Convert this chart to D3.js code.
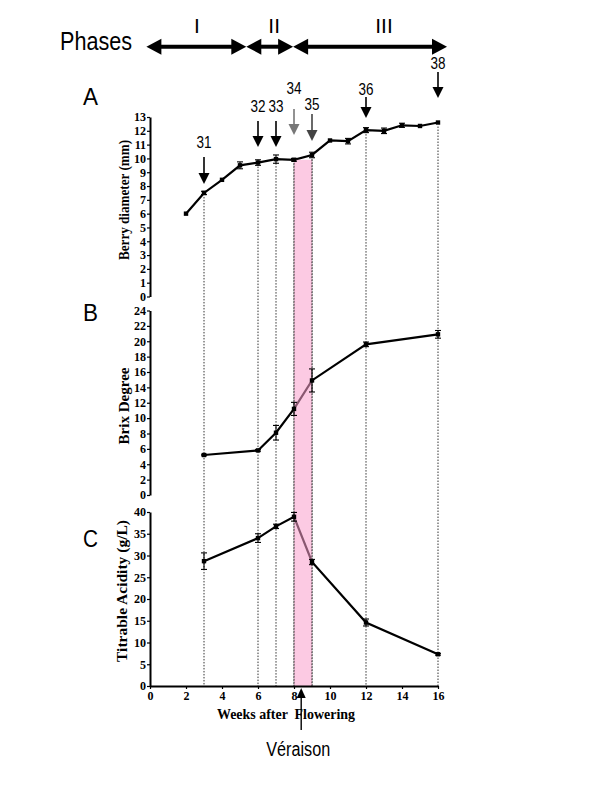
<!DOCTYPE html>
<html lang="en">
<head>
    <meta charset="UTF-8">
    <title>Berry development phases</title>
    <script src="https://d3js.org/d3.v7.min.js"></script>
    <style>
        body { margin: 0; background: #fff; }
        .tick text { font-family: "Liberation Serif", "Times New Roman", serif; font-weight: bold; font-size: 12px; }
        .axis path.domain { stroke: #000; stroke-width: 2; }
        .axis line { stroke: #000; stroke-width: 1.2; }
        .sans { font-family: "Liberation Sans", Arial, sans-serif; }
        .serif { font-family: "Liberation Serif", "Times New Roman", serif; font-weight: bold; }
    </style>
</head>
<body>
<svg id="chart" width="600" height="800"></svg>
<script>
// Panel A: berry diameter (mm), weekly
const weeksA = [2, 3, 4, 5, 6, 7, 8, 9, 10, 11, 12, 13, 14, 15, 16];
const diameter = [6.0, 7.5, 8.45, 9.5, 9.7, 9.95, 9.9, 10.25, 11.3, 11.25, 12.05, 12.0, 12.4, 12.35, 12.6];
const diameterErr = [0, 0.12, 0.05, 0.25, 0.2, 0.3, 0.1, 0.2, 0.05, 0.2, 0.18, 0.2, 0.15, 0.05, 0.05];

// Panels B and C: sampled weeks
const weeksBC = [3, 6, 7, 8, 9, 12, 16];
const brix = [5.2, 5.8, 8.1, 11.2, 14.9, 19.6, 20.9];
const brixErr = [0.1, 0.1, 0.95, 0.85, 1.5, 0.3, 0.5];
const acidity = [28.7, 34.0, 36.7, 38.9, 28.5, 14.6, 7.3];
const acidityErr = [1.9, 1.0, 0.5, 1.0, 0.6, 0.8, 0.2];

// Growth stage labels (week of each arrow)
const stageLabels = ["31", "32", "33", "34", "35", "36", "38"];
const stageWeeks = [3, 6, 7, 8, 9, 12, 16];

// Phases
const phaseLabels = ["I", "II", "III"];
const phaseBounds = [-0.2, 5.35, 7.95, 16.5];
const phaseLabelWeeks = [2.6, 6.9, 13.0];

const xTicks = [0, 2, 4, 6, 8, 10, 12, 14, 16];
const veraisonWeek = 8.4;

const svg = d3.select("#chart");

// scales
const x = d3.scaleLinear().domain([0, 16]).range([150, 438]);
const yA = d3.scaleLinear().domain([0, 13]).range([296.5, 117]);
const yB = d3.scaleLinear().domain([0, 24]).range([495, 310.5]);
const yC = d3.scaleLinear().domain([0, 40]).range([686, 512]);

// arrow layout for the stage labels (label baseline, arrow top, arrow tip)
const stageLayout = [
    { ly: 148, top: 157, tip: 184, color: "#000" },
    { ly: 112, top: 121, tip: 147, color: "#000" },
    { ly: 112, top: 121, tip: 147, color: "#000" },
    { ly: 94, top: 109, tip: 135, color: "#777" },
    { ly: 110, top: 114, tip: 141, color: "#444" },
    { ly: 95, top: 97, tip: 118, color: "#000" },
    { ly: 69, top: 72, tip: 98, color: "#000" }
];

// dotted guide lines from panel A down to the x axis
stageWeeks.forEach(w => {
    const v = diameter[weeksA.indexOf(w)];
    svg.append("line")
        .attr("x1", x(w)).attr("x2", x(w))
        .attr("y1", yA(v) + 4).attr("y2", yC(0))
        .attr("stroke", "#333")
        .attr("stroke-width", 1)
        .attr("stroke-dasharray", "1.5,1.5");
});

// line generator
function drawLine(xs, ys, yScale) {
    const pts = xs.map((d, i) => [x(d), yScale(ys[i])]);
    svg.append("path")
        .attr("d", d3.line()(pts))
        .attr("fill", "none")
        .attr("stroke", "#000")
        .attr("stroke-width", 2.2);
}

drawLine(weeksA, diameter, yA);
drawLine(weeksBC, brix, yB);
drawLine(weeksBC, acidity, yC);

// véraison band (drawn over the lines so they look purple inside)
svg.append("rect")
    .attr("x", x(8))
    .attr("y", yA(9.9))
    .attr("width", x(9) - x(8))
    .attr("height", yC(0) - yA(9.9))
    .attr("fill", "#fa9fcc")
    .attr("opacity", 0.55);

// re-draw edge guide lines on top of the band
[8, 9].forEach(w => {
    svg.append("line")
        .attr("x1", x(w)).attr("x2", x(w))
        .attr("y1", yA(9.9)).attr("y2", yC(0))
        .attr("stroke", "#333")
        .attr("stroke-width", 1)
        .attr("stroke-dasharray", "1.5,1.5");
});

// markers + error bars
function drawPoints(xs, ys, errs, yScale) {
    const g = svg.append("g");
    xs.forEach((d, i) => {
        const cx = x(d), cy = yScale(ys[i]);
        if (errs[i] > 0.08) {
            const y1 = yScale(ys[i] + errs[i]), y2 = yScale(ys[i] - errs[i]);
            g.append("line").attr("x1", cx).attr("x2", cx).attr("y1", y1).attr("y2", y2)
                .attr("stroke", "#000").attr("stroke-width", 1.1);
            [y1, y2].forEach(yy => g.append("line")
                .attr("x1", cx - 3).attr("x2", cx + 3).attr("y1", yy).attr("y2", yy)
                .attr("stroke", "#000").attr("stroke-width", 1.1));
        }
        g.append("rect")
            .attr("x", cx - 2.2).attr("y", cy - 2.2)
            .attr("width", 4.4).attr("height", 4.4)
            .attr("fill", "#000");
    });
}

drawPoints(weeksA, diameter, diameterErr, yA);
drawPoints(weeksBC, brix, brixErr, yB);
drawPoints(weeksBC, acidity, acidityErr, yC);

// axes
svg.append("g").attr("class", "axis")
    .attr("transform", "translate(150,0)")
    .call(d3.axisLeft(yA).tickValues(d3.range(0, 14, 1)).tickFormat(d3.format("d")).tickSize(3).tickSizeOuter(0).tickPadding(1));
svg.append("g").attr("class", "axis")
    .attr("transform", "translate(150,0)")
    .call(d3.axisLeft(yB).tickValues(d3.range(0, 25, 2)).tickFormat(d3.format("d")).tickSize(3).tickSizeOuter(0).tickPadding(1));
svg.append("g").attr("class", "axis")
    .attr("transform", "translate(150,0)")
    .call(d3.axisLeft(yC).tickValues(d3.range(0, 41, 5)).tickFormat(d3.format("d")).tickSize(3).tickSizeOuter(0).tickPadding(1));
svg.append("g").attr("class", "axis")
    .attr("transform", "translate(0," + yC(0) + ")")
    .call(d3.axisBottom(x).tickValues(xTicks).tickFormat(d3.format("d")).tickSize(3).tickSizeOuter(0).tickPadding(2));

// y-axis titles
function yTitle(text, cx, cy, len) {
    svg.append("text")
        .attr("class", "serif")
        .attr("transform", "translate(" + cx + "," + cy + ") rotate(-90)")
        .attr("text-anchor", "middle")
        .attr("font-size", 14.5)
        .attr("textLength", len).attr("lengthAdjust", "spacingAndGlyphs")
        .text(text);
}
yTitle("Berry diameter (mm)", 129, 200, 120);
yTitle("Brix Degree", 129, 406, 77);
yTitle("Titrable Acidity (g/L)", 127, 591, 142);

svg.append("text")
    .attr("class", "serif")
    .attr("x", 286).attr("y", 719)
    .attr("text-anchor", "middle")
    .attr("font-size", 14)
    .attr("xml:space", "preserve")
    .attr("textLength", 138).attr("lengthAdjust", "spacingAndGlyphs")
    .text("Weeks after  Flowering");

// panel letters
[["A", 105], ["B", 321], ["C", 547]].forEach(([t, yy]) => {
    svg.append("text").attr("class", "sans")
        .attr("x", 83).attr("y", yy)
        .attr("font-size", 23)
        .attr("textLength", 15).attr("lengthAdjust", "spacingAndGlyphs")
        .text(t);
});

// downward arrow helper
function vArrow(ax, top, tip, color, width) {
    svg.append("line")
        .attr("x1", ax).attr("x2", ax).attr("y1", top).attr("y2", tip - 9)
        .attr("stroke", color).attr("stroke-width", width);
    svg.append("path")
        .attr("d", `M${ax - 5.5},${tip - 11}L${ax + 5.5},${tip - 11}L${ax},${tip}Z`)
        .attr("fill", color);
}

// stage arrows
stageLabels.forEach((lab, i) => {
    const L = stageLayout[i];
    const ax = x(stageWeeks[i]);
    svg.append("text").attr("class", "sans")
        .attr("x", ax).attr("y", L.ly)
        .attr("text-anchor", "middle")
        .attr("font-size", 16)
        .attr("textLength", 15).attr("lengthAdjust", "spacingAndGlyphs")
        .text(lab);
    vArrow(ax, L.top, L.tip, L.color, 1.6);
});

// phases
svg.append("text").attr("class", "sans")
    .attr("x", 60).attr("y", 50)
    .attr("font-size", 25)
    .attr("textLength", 72).attr("lengthAdjust", "spacingAndGlyphs")
    .text("Phases");

const phaseY = 46.7;
for (let i = 0; i < phaseLabels.length; i++) {
    const x0 = x(phaseBounds[i]), x1 = x(phaseBounds[i + 1]);
    svg.append("line")
        .attr("x1", x0 + 10).attr("x2", x1 - 10)
        .attr("y1", phaseY).attr("y2", phaseY)
        .attr("stroke", "#000").attr("stroke-width", 4);
    svg.append("path")
        .attr("d", `M${x0},${phaseY}L${x0 + 15},${phaseY - 8}L${x0 + 15},${phaseY + 8}Z`)
        .attr("fill", "#000");
    svg.append("path")
        .attr("d", `M${x1},${phaseY}L${x1 - 15},${phaseY - 8}L${x1 - 15},${phaseY + 8}Z`)
        .attr("fill", "#000");
    svg.append("text").attr("class", "sans")
        .attr("x", x(phaseLabelWeeks[i])).attr("y", 33)
        .attr("text-anchor", "middle")
        .attr("font-size", 21)
        .text(phaseLabels[i]);
}

// véraison arrow (pointing up)
const vx = x(veraisonWeek);
svg.append("line")
    .attr("x1", vx).attr("x2", vx).attr("y1", 696).attr("y2", 730)
    .attr("stroke", "#000").attr("stroke-width", 1.4);
svg.append("path")
    .attr("d", `M${vx - 4.5},${698}L${vx + 4.5},${698}L${vx},${688}Z`)
    .attr("fill", "#000");
svg.append("text").attr("class", "sans")
    .attr("x", vx - 3).attr("y", 756)
    .attr("text-anchor", "middle")
    .attr("font-size", 20)
    .attr("textLength", 64).attr("lengthAdjust", "spacingAndGlyphs")
    .text("Véraison");
</script>
</body>
</html>
